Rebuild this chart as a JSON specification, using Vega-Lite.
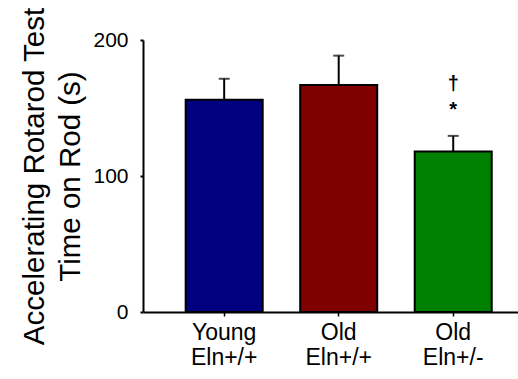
{
  "$schema": "https://vega.github.io/schema/vega-lite/v6.json",
  "width": 375,
  "height": 272,
  "autosize": {"type": "none"},
  "padding": {"left": 143, "top": 40, "right": 0, "bottom": 67},
  "background": "white",
  "config": {"view": {"stroke": null}, "font": "Liberation Sans"},
  "data": {
    "values": [
      {"group": "Young Eln+/+", "mean": 156, "err": 171.5},
      {"group": "Old Eln+/+", "mean": 167, "err": 188.5},
      {"group": "Old Eln+/-", "mean": 118, "err": 129.5}
    ]
  },
  "encoding": {
    "x": {
      "field": "group",
      "type": "nominal",
      "sort": null,
      "scale": {"paddingInner": 0.3275, "paddingOuter": 0.301, "align": 0.619},
      "axis": {
        "title": null,
        "labelAngle": 0,
        "labelExpr": "split(datum.label, ' ')",
        "labelFontSize": 23,
        "labelLineHeight": 25,
        "labelColor": "black",
        "labelPadding": 5,
        "domainColor": "black",
        "domainWidth": 2,
        "tickColor": "black",
        "tickWidth": 1.5,
        "tickSize": 4
      }
    }
  },
  "layer": [
    {
      "mark": {"type": "bar", "stroke": "black", "strokeWidth": 2},
      "encoding": {
        "y": {
          "field": "mean",
          "type": "quantitative",
          "scale": {"domain": [0, 200], "nice": false},
          "axis": {
            "values": [0, 100, 200],
            "grid": false,
            "domainColor": "black",
            "domainWidth": 2,
            "tickColor": "black",
            "tickWidth": 2,
            "tickSize": 3,
            "labelFontSize": 21,
            "labelColor": "black",
            "labelPadding": 12,
            "title": ["Accelerating Rotarod Test", "Time on Rod (s)"],
            "titleFontSize": 29.5,
            "titleFontWeight": "normal",
            "titleColor": "black",
            "titleAngle": -90,
            "titleAlign": "center",
            "titleBaseline": "alphabetic",
            "titleLineHeight": 36,
            "titleX": -100,
            "titleY": 136
          }
        },
        "color": {
          "field": "group",
          "type": "nominal",
          "scale": {"domain": ["Young Eln+/+", "Old Eln+/+", "Old Eln+/-"], "range": ["#000080", "#800000", "#008000"]},
          "legend": null
        }
      }
    },
    {
      "mark": {"type": "rule", "color": "black", "strokeWidth": 2},
      "encoding": {
        "y": {"field": "mean", "type": "quantitative"},
        "y2": {"field": "err"}
      }
    },
    {
      "mark": {"type": "tick", "color": "black", "thickness": 2, "size": 11},
      "encoding": {
        "y": {"field": "err", "type": "quantitative"}
      }
    },
    {
      "data": {
        "values": [
          {"group": "Old Eln+/-", "label": "†", "pos": 163.5},
          {"group": "Old Eln+/-", "label": "*", "pos": 144}
        ]
      },
      "mark": {"type": "text", "fontSize": 20, "fontWeight": "bold", "color": "black", "baseline": "alphabetic"},
      "encoding": {
        "y": {"field": "pos", "type": "quantitative"},
        "text": {"field": "label"}
      }
    }
  ]
}
